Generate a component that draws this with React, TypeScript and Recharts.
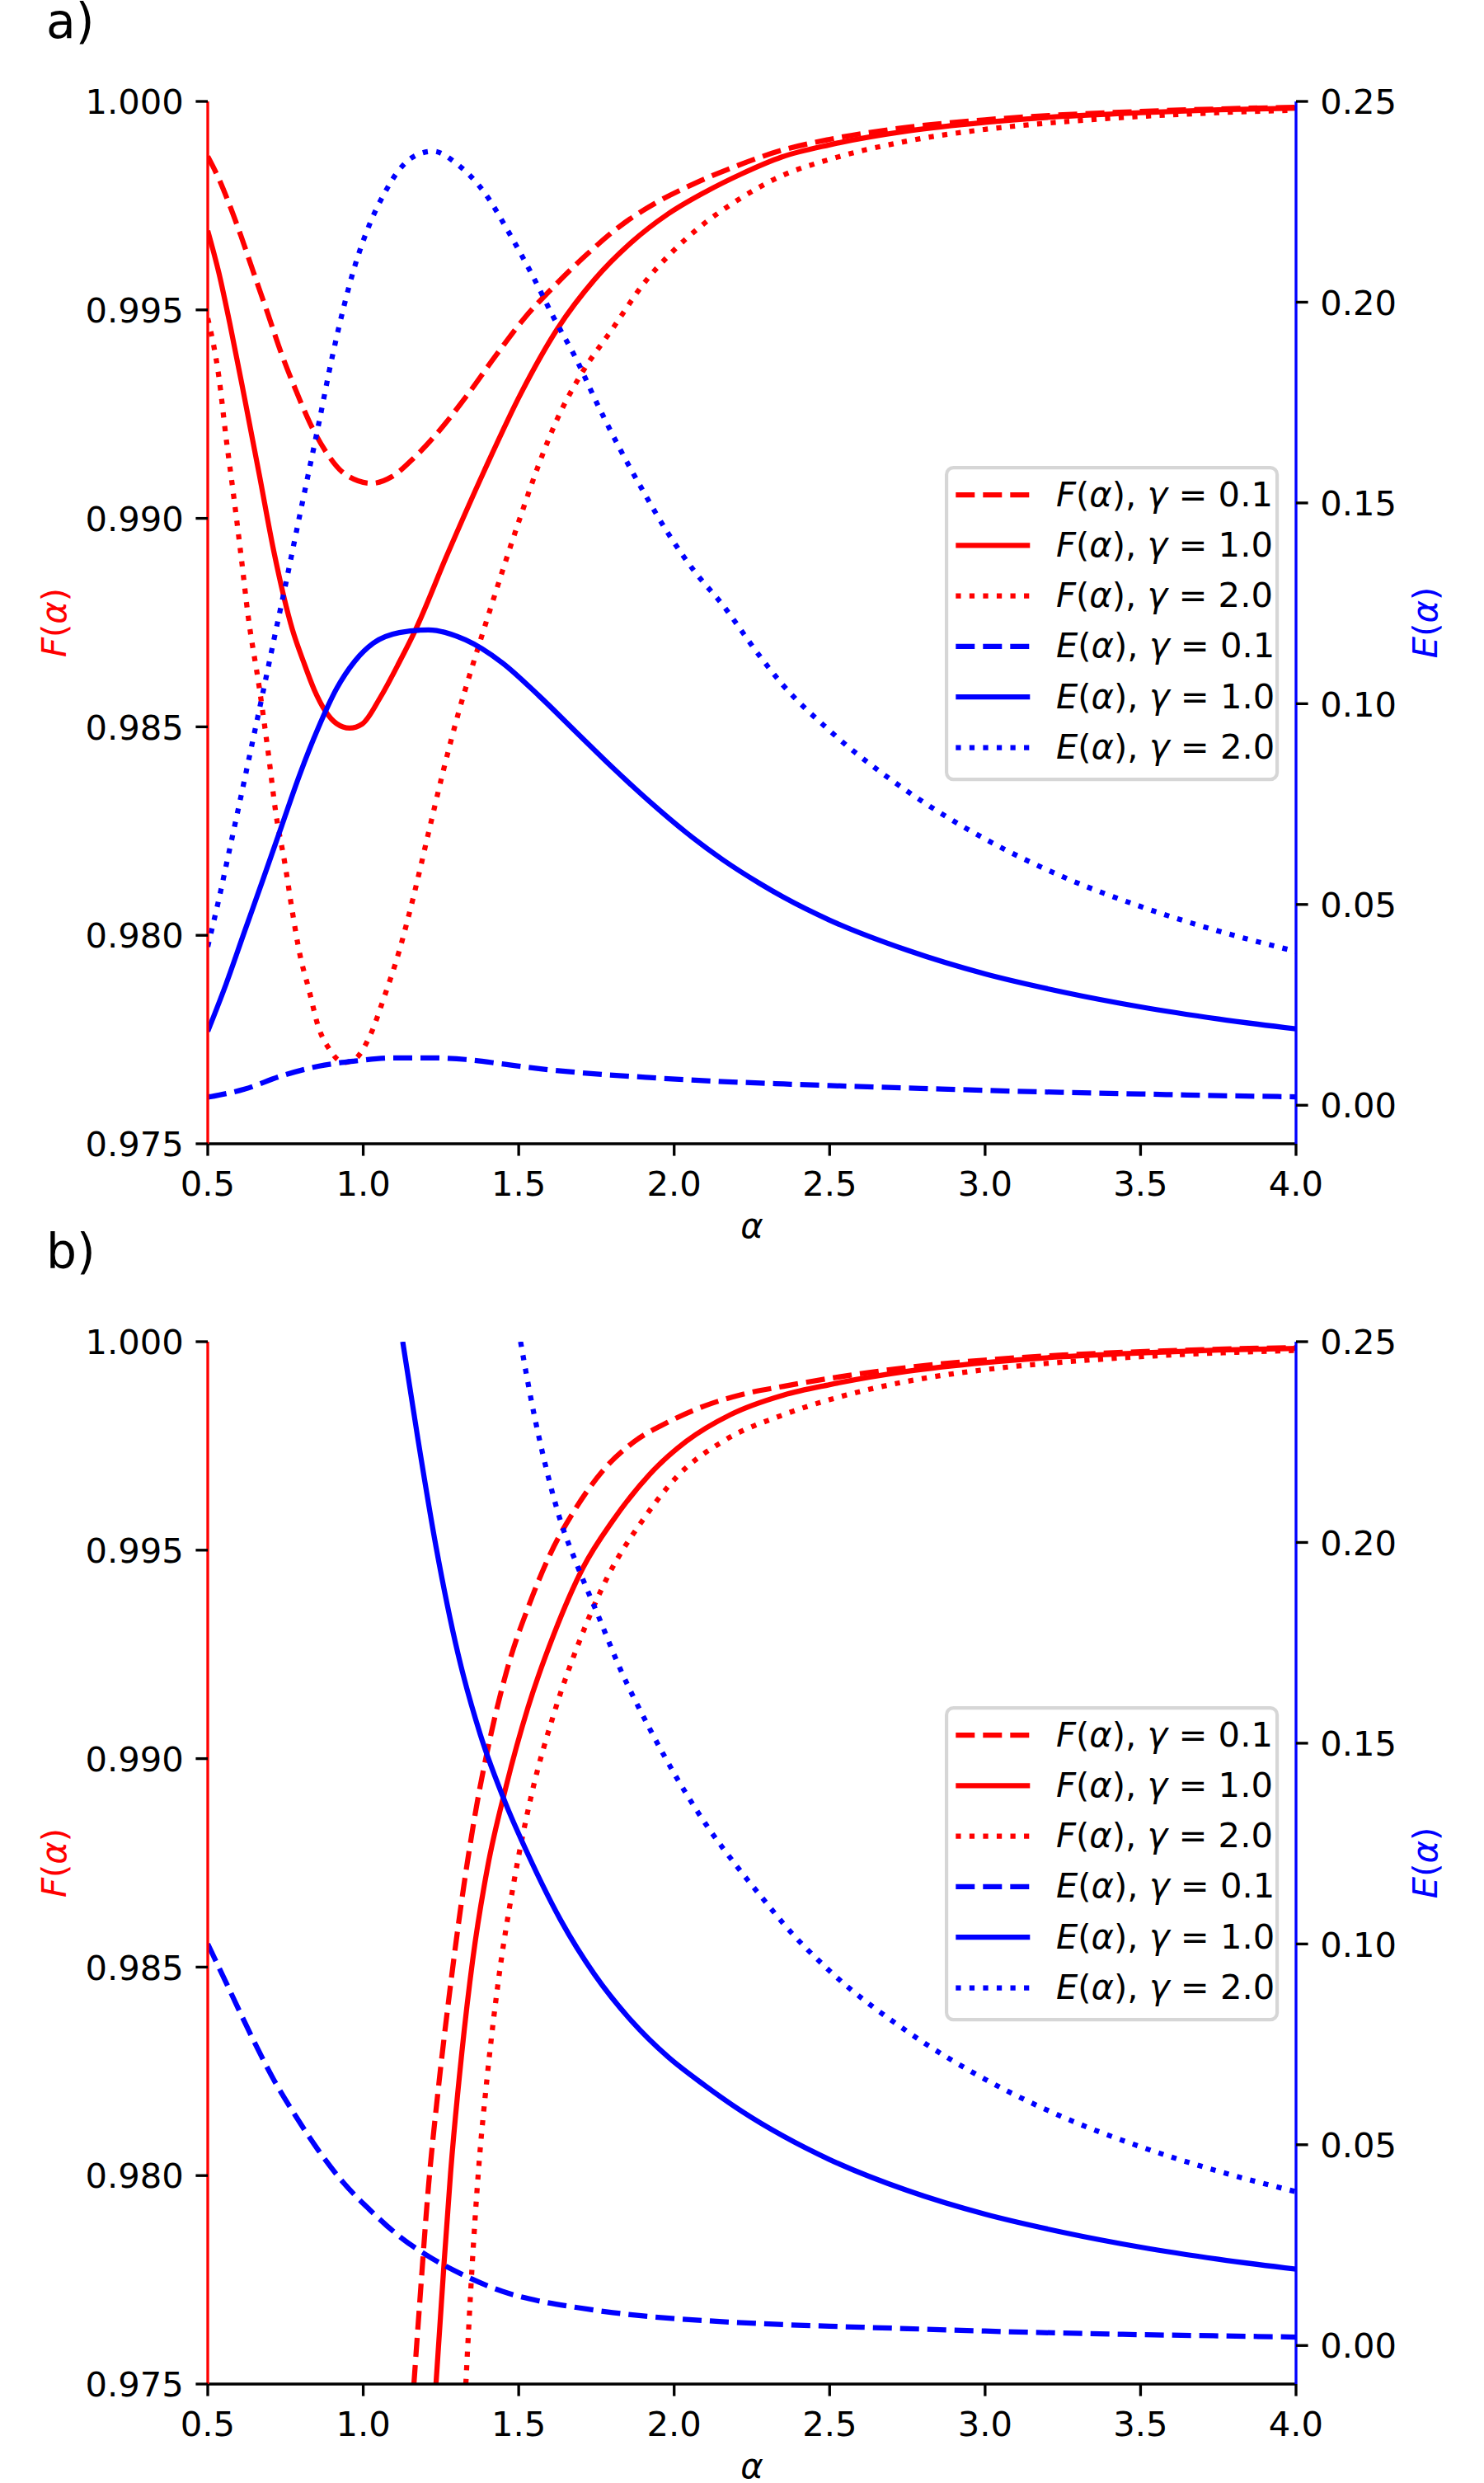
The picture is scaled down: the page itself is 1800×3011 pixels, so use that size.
import React from 'react';
import { LineChart, Line, XAxis, YAxis, Legend } from 'recharts';

type Pt = [number, number];

// ---------- panel a) ----------
const aF_g01: Pt[] = [[0.5,0.99868],[0.536,0.99814],[0.571,0.9975],[0.607,0.99677],[0.648,0.99588],[0.689,0.995],[0.737,0.99395],[0.784,0.99306],[0.831,0.99225],[0.879,0.99161],[0.938,0.99108],[1.027,0.99084],[1.092,0.991],[1.163,0.99145],[1.234,0.99201],[1.329,0.9929],[1.423,0.99387],[1.518,0.9948],[1.613,0.99556],[1.719,0.99633],[1.826,0.99701],[1.944,0.99758],[2.062,0.99802],[2.193,0.99843],[2.347,0.99883],[2.5,0.99909],[2.75,0.99938],[3.0,0.99956],[3.25,0.99968],[3.5,0.99976],[3.75,0.99982],[4.0,0.99986]];
const aF_g1: Pt[] = [[0.5,0.9969],[0.536,0.99588],[0.571,0.99467],[0.618,0.9929],[0.666,0.99104],[0.713,0.98919],[0.772,0.98734],[0.808,0.98656],[0.843,0.98588],[0.879,0.98537],[0.914,0.98508],[0.956,0.98497],[0.997,0.98507],[1.056,0.98572],[1.116,0.98655],[1.169,0.98734],[1.269,0.98911],[1.388,0.99112],[1.506,0.99298],[1.625,0.99455],[1.743,0.99572],[1.861,0.99661],[1.98,0.9973],[2.098,0.99782],[2.216,0.99826],[2.347,0.99867],[2.5,0.99896],[2.75,0.99929],[3.0,0.9995],[3.25,0.99964],[3.5,0.99973],[3.75,0.9998],[4.0,0.99984]];
const aF_g2: Pt[] = [[0.5,0.9948],[0.536,0.99338],[0.559,0.99193],[0.583,0.99056],[0.607,0.98911],[0.63,0.98765],[0.666,0.98593],[0.695,0.98435],[0.719,0.98293],[0.749,0.98168],[0.772,0.98057],[0.796,0.97955],[0.826,0.97868],[0.855,0.97782],[0.891,0.97727],[0.938,0.97695],[0.973,0.97703],[1.021,0.97758],[1.068,0.97853],[1.116,0.97963],[1.163,0.98097],[1.21,0.98246],[1.258,0.98396],[1.305,0.9853],[1.352,0.98648],[1.4,0.98762],[1.447,0.98872],[1.506,0.99005],[1.565,0.9913],[1.625,0.9924],[1.701,0.99346],[1.802,0.99455],[1.903,0.99564],[1.991,0.99637],[2.086,0.99701],[2.193,0.99758],[2.347,0.99822],[2.5,0.99861],[2.75,0.99905],[3.0,0.99933],[3.25,0.99951],[3.5,0.99964],[3.75,0.99973],[4.0,0.99979]];
const aE_g01: Pt[] = [[0.5,0.002],[0.618,0.004],[0.737,0.0073],[0.855,0.0097],[0.973,0.011],[1.092,0.0118],[1.21,0.0118],[1.329,0.0114],[1.447,0.0103],[1.565,0.0091],[1.684,0.0082],[1.92,0.0069],[2.157,0.0059],[2.352,0.0053],[2.5,0.0049],[2.75,0.0043],[3.0,0.0037],[3.25,0.0032],[3.5,0.0028],[3.75,0.0024],[4.0,0.0021]];
const aE_g1: Pt[] = [[0.5,0.0184],[0.559,0.0302],[0.618,0.0432],[0.678,0.0563],[0.737,0.0694],[0.796,0.0824],[0.855,0.0939],[0.914,0.1037],[0.973,0.1106],[1.033,0.1151],[1.116,0.1177],[1.21,0.1184],[1.329,0.1159],[1.447,0.1102],[1.565,0.102],[1.684,0.093],[1.802,0.0841],[1.92,0.0757],[2.039,0.0679],[2.157,0.0611],[2.276,0.0552],[2.352,0.0518],[2.5,0.0461],[2.75,0.0386],[3.0,0.0327],[3.25,0.0282],[3.5,0.0245],[3.75,0.0215],[4.0,0.019]];
const aE_g2: Pt[] = [[0.5,0.0395],[0.536,0.0514],[0.571,0.064],[0.607,0.077],[0.642,0.0898],[0.678,0.103],[0.713,0.116],[0.749,0.1292],[0.796,0.147],[0.855,0.169],[0.902,0.187],[0.938,0.199],[0.973,0.209],[1.021,0.2195],[1.068,0.2271],[1.116,0.233],[1.163,0.2363],[1.224,0.2376],[1.305,0.2342],[1.388,0.2275],[1.471,0.217],[1.542,0.207],[1.613,0.1961],[1.684,0.186],[1.755,0.1743],[1.826,0.1634],[1.897,0.1534],[1.98,0.1425],[2.062,0.1333],[2.157,0.1245],[2.276,0.1118],[2.347,0.1049],[2.5,0.0933],[2.748,0.0783],[3.0,0.0663],[3.25,0.0569],[3.5,0.0495],[3.75,0.0434],[4.0,0.0383]];

// ---------- panel b) ----------
const bF_g01: Pt[] = [[1.163,0.975],[1.181,0.97688],[1.21,0.97975],[1.24,0.98198],[1.275,0.98422],[1.317,0.98661],[1.364,0.98884],[1.411,0.99059],[1.471,0.99235],[1.53,0.99362],[1.601,0.9949],[1.684,0.99601],[1.778,0.99697],[1.873,0.99761],[1.98,0.99807],[2.098,0.99846],[2.216,0.99873],[2.352,0.99893],[2.5,0.99912],[2.75,0.99938],[3.0,0.99956],[3.25,0.99968],[3.5,0.99976],[3.75,0.99982],[4.0,0.99986]];
const bF_g1: Pt[] = [[1.234,0.975],[1.258,0.97768],[1.281,0.98007],[1.317,0.98294],[1.352,0.98517],[1.4,0.9874],[1.459,0.98932],[1.53,0.99123],[1.613,0.99298],[1.707,0.99458],[1.802,0.9957],[1.92,0.99681],[2.039,0.99761],[2.181,0.99825],[2.352,0.99872],[2.5,0.99897],[2.75,0.99929],[3.0,0.9995],[3.25,0.99964],[3.5,0.99973],[3.75,0.9998],[4.0,0.99984]];
const bF_g2: Pt[] = [[1.33,0.975],[1.35,0.9778],[1.37,0.98005],[1.4,0.98246],[1.435,0.98469],[1.482,0.98693],[1.542,0.98916],[1.613,0.99107],[1.696,0.99283],[1.79,0.99442],[1.897,0.9957],[2.015,0.99681],[2.157,0.99761],[2.352,0.99825],[2.5,0.99861],[2.75,0.99905],[3.0,0.99933],[3.25,0.99951],[3.5,0.99964],[3.75,0.99973],[4.0,0.99979]];
const bE_g01: Pt[] = [[0.5,0.1],[0.571,0.0884],[0.642,0.0768],[0.713,0.0661],[0.784,0.057],[0.855,0.0487],[0.938,0.0404],[1.021,0.0338],[1.116,0.0272],[1.21,0.0222],[1.329,0.0173],[1.447,0.0135],[1.565,0.0111],[1.684,0.0095],[1.802,0.0082],[1.92,0.0072],[2.098,0.0062],[2.352,0.0052],[2.5,0.0048],[2.75,0.0042],[3.0,0.0036],[3.25,0.0031],[3.5,0.0027],[3.75,0.0024],[4.0,0.0021]];
const bE_g1: Pt[] = [[1.127,0.25],[1.175,0.2262],[1.234,0.199],[1.305,0.1722],[1.376,0.1523],[1.459,0.1348],[1.53,0.1223],[1.636,0.1058],[1.743,0.0925],[1.861,0.081],[1.98,0.0719],[2.098,0.0648],[2.216,0.0584],[2.352,0.0521],[2.5,0.0463],[2.75,0.0386],[3.0,0.0327],[3.25,0.0282],[3.5,0.0245],[3.75,0.0215],[4.0,0.019]];
const bE_g2: Pt[] = [[1.506,0.25],[1.542,0.2348],[1.589,0.2183],[1.636,0.205],[1.684,0.1951],[1.755,0.1819],[1.826,0.1686],[1.92,0.1538],[2.015,0.1405],[2.11,0.1289],[2.205,0.119],[2.299,0.11],[2.352,0.105],[2.5,0.0933],[2.748,0.0783],[3.0,0.0663],[3.25,0.0569],[3.5,0.0495],[3.75,0.0434],[4.0,0.0383]];

// ---------- axes ----------
const X_DOMAIN: [number, number] = [0.5, 4.0];
const X_TICKS = [0.5, 1.0, 1.5, 2.0, 2.5, 3.0, 3.5, 4.0];
const F_DOMAIN: [number, number] = [0.975, 1.0];
const F_TICKS = [0.975, 0.98, 0.985, 0.99, 0.995, 1.0];
const E_DOMAIN: [number, number] = [-0.0096, 0.25];
const E_TICKS = [0.0, 0.05, 0.1, 0.15, 0.2, 0.25];
const GAMMAS = ['0.1', '1.0', '2.0'];

const FONT = '"DejaVu Sans", sans-serif';
const FS = 41.7;
const RED = '#ff0000';
const BLUE = '#0000ff';
const LW = 6.25;
const SPINE = 3.33;
const TICK_LEN = 14.6;
const DASHES = ['23 10', undefined, '6.25 10.3'];

type Sym = 'F' | 'E';
interface Series { sym: Sym; gamma: string; data: Pt[]; color: string; dash?: string }

const makeSeries = (f: Pt[][], e: Pt[][]): Series[] => [
  ...f.map((d, i) => ({ sym: 'F' as Sym, gamma: GAMMAS[i], data: d, color: RED, dash: DASHES[i] })),
  ...e.map((d, i) => ({ sym: 'E' as Sym, gamma: GAMMAS[i], data: d, color: BLUE, dash: DASHES[i] })),
];

const SERIES_A = makeSeries([aF_g01, aF_g1, aF_g2], [aE_g01, aE_g1, aE_g2]);
const SERIES_B = makeSeries([bF_g01, bF_g1, bF_g2], [bE_g01, bE_g1, bE_g2]);

const toRows = (d: Pt[]) => d.map(([a, v]) => ({ a, v }));

// mathtext-like label: F(α), γ = 0.1
const MathText = ({ sym, gamma }: { sym: string; gamma?: string }) => (
  <>
    <tspan fontStyle="italic">{sym}</tspan>
    <tspan>(</tspan>
    <tspan fontStyle="italic">α</tspan>
    <tspan>)</tspan>
    {gamma !== undefined && (
      <>
        <tspan style={{ whiteSpace: 'pre' }}>, </tspan>
        <tspan fontStyle="italic">γ</tspan>
        <tspan style={{ whiteSpace: 'pre' }}>{' = ' + gamma}</tspan>
      </>
    )}
  </>
);

const XTick = (props: any) => {
  const { x, y, payload } = props;
  return (
    <text x={x} y={y + 48.4} textAnchor="middle" fontFamily={FONT} fontSize={FS} fill="#000">
      {Number(payload.value).toFixed(1)}
    </text>
  );
};

const FTick = (props: any) => {
  const { x, y, payload } = props;
  return (
    <text x={x - 14.6} y={y + 15.2} textAnchor="end" fontFamily={FONT} fontSize={FS} fill="#000">
      {Number(payload.value).toFixed(3)}
    </text>
  );
};

const ETick = (props: any) => {
  const { x, y, payload } = props;
  return (
    <text x={x + 14.6} y={y + 15.2} textAnchor="start" fontFamily={FONT} fontSize={FS} fill="#000">
      {Number(payload.value).toFixed(2)}
    </text>
  );
};

const YTitle = (props: any) => {
  const { viewBox, sym, color, side } = props;
  const cy = viewBox ? viewBox.y + viewBox.height / 2 : 755;
  const x = side === 'left' ? 80 : 1743;
  return (
    <text transform={`translate(${x},${cy}) rotate(-90)`} textAnchor="middle" fontFamily={FONT} fontSize={FS} fill={color}>
      <MathText sym={sym} />
    </text>
  );
};

const XTitle = (props: any) => {
  const { viewBox } = props;
  const cx = viewBox ? viewBox.x + viewBox.width / 2 : 912;
  const y = viewBox ? viewBox.y + 114 : 1501;
  return (
    <text x={cx} y={y} textAnchor="middle" fontFamily={FONT} fontSize={FS} fontStyle="italic" fill="#000">
      α
    </text>
  );
};

const LegendBox = ({ series }: { series: Series[] }) => (
  <svg width={410} height={386} style={{ display: 'block' }}>
    <rect x={2.1} y={2.1} width={401} height={378} rx={8.3} ry={8.3}
      fill="#ffffff" fillOpacity={0.8} stroke="#cccccc" strokeOpacity={0.8} strokeWidth={4.17} />
    {series.map((s, i) => {
      const cy = 35 + i * 61.3;
      return (
        <g key={i}>
          <line x1={13.3} x2={103.3} y1={cy} y2={cy} stroke={s.color} strokeWidth={LW}
            strokeDasharray={s.dash} strokeLinecap="butt" />
          <text x={135} y={cy + 13.5} fontFamily={FONT} fontSize={FS} fill="#000">
            <MathText sym={s.sym} gamma={s.gamma} />
          </text>
        </g>
      );
    })}
  </svg>
);

const PLOT_TOP = 123;
const PLOT_H = 1264;
const X_AXIS_H = 80;

const Panel = ({ series, top, height }: { series: Series[]; top: number; height: number }) => (
  <div style={{ position: 'absolute', left: 0, top, width: 1800, height }}>
    <LineChart width={1800} height={height}
      margin={{ top: PLOT_TOP, right: 108, bottom: height - PLOT_TOP - PLOT_H - X_AXIS_H, left: 132 }}>
      <XAxis xAxisId="top" orientation="top" type="number" dataKey="a" domain={X_DOMAIN} allowDataOverflow
        height={0} tick={false} tickLine={false} axisLine={{ stroke: '#000', strokeWidth: SPINE }} />
      <XAxis type="number" dataKey="a" domain={X_DOMAIN} ticks={X_TICKS} allowDataOverflow interval={0}
        height={X_AXIS_H} tickSize={TICK_LEN} tickMargin={0} tick={<XTick />}
        tickLine={{ stroke: '#000', strokeWidth: SPINE }} axisLine={{ stroke: '#000', strokeWidth: SPINE }}
        label={<XTitle />} />
      <YAxis yAxisId="F" orientation="left" type="number" domain={F_DOMAIN} ticks={F_TICKS} allowDataOverflow interval={0}
        width={120} tickSize={TICK_LEN} tickMargin={0} tick={<FTick />}
        tickLine={{ stroke: '#000', strokeWidth: SPINE }} axisLine={{ stroke: RED, strokeWidth: SPINE }}
        label={<YTitle sym="F" color={RED} side="left" />} />
      <YAxis yAxisId="E" orientation="right" type="number" domain={E_DOMAIN} ticks={E_TICKS} allowDataOverflow interval={0}
        width={120} tickSize={TICK_LEN} tickMargin={0} tick={<ETick />}
        tickLine={{ stroke: '#000', strokeWidth: SPINE }} axisLine={{ stroke: BLUE, strokeWidth: SPINE }}
        label={<YTitle sym="E" color={BLUE} side="right" />} />
      {series.map((s, i) => (
        <Line key={i} yAxisId={s.sym} data={toRows(s.data)} dataKey="v" type="monotone"
          stroke={s.color} strokeWidth={LW} strokeDasharray={s.dash} strokeLinecap="butt" strokeLinejoin="round"
          dot={false} activeDot={false} isAnimationActive={false} name={`${s.sym} ${s.gamma}`} />
      ))}
      <Legend layout="horizontal" verticalAlign="middle" align="center"
        wrapperStyle={{ left: 1146, top: 565, width: 410, height: 386 }}
        content={() => <LegendBox series={series} />} />
    </LineChart>
  </div>
);

export default function App() {
  return (
    <div style={{ position: 'absolute', left: 0, top: 0, width: 1800, height: 3011, background: '#fff' }}>
      <Panel series={SERIES_A} top={0} height={1560} />
      <Panel series={SERIES_B} top={1504} height={1507} />
      <svg width={1800} height={3011} style={{ position: 'absolute', left: 0, top: 0, pointerEvents: 'none' }}>
        <text x={56} y={46} fontFamily={FONT} fontSize={58.3} fill="#000">a)</text>
        <text x={56} y={1538} fontFamily={FONT} fontSize={58.3} fill="#000">b)</text>
      </svg>
    </div>
  );
}
